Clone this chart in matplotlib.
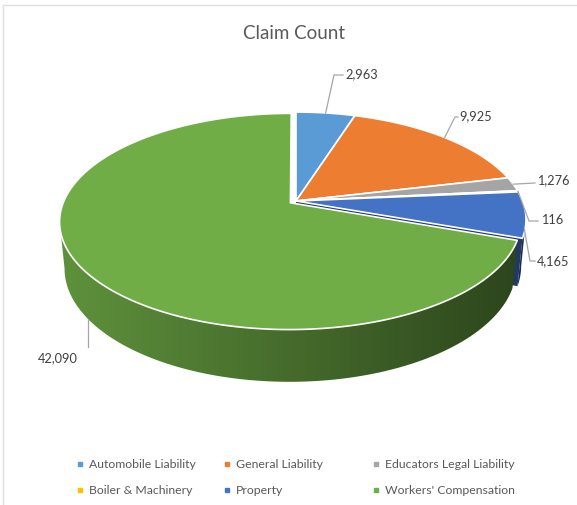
import numpy as np
import matplotlib.pyplot as plt
from matplotlib.patches import Polygon
from matplotlib.colors import to_rgb

# Chart data
categories = ["Automobile Liability", "General Liability", "Educators Legal Liability",
              "Boiler & Machinery", "Property", "Workers' Compensation"]
claims = [2963, 9925, 1276, 116, 4165, 42090]
value_labels = ["2,963", "9,925", "1,276", "116", "4,165", "42,090"]
colors = ["#5B9BD5", "#ED7D31", "#A5A5A5", "#FFC000", "#4472C4", "#70AD47"]
explode = [0, 0, 0, 0, 0, 0.03]

FONT = "Lato"
TEXT_COLOR = "#595959"

# 3D view (pixel space), simple perspective camera
CX, CY = 296, 202
FOCAL = 1169
DIST = 5.16
TILT = np.radians(27.4)
THICK = 0.233


def project(t_deg, r=1.0, z=0.0, shift=(0.0, 0.0)):
    t = np.radians(t_deg)
    x = r * np.cos(t) + shift[0]
    y = r * np.sin(t) + shift[1]
    w = DIST + y * np.cos(TILT) - z * np.sin(TILT)
    v = y * np.sin(TILT) + z * np.cos(TILT)
    return CX + FOCAL * x / w, CY - FOCAL * v / w


def shade_factor(x):
    # light comes from the left, walls get darker to the right
    return np.interp(x, [62, 526], [0.84, 0.39])


fig = plt.figure(figsize=(5.77, 5.06), dpi=100)
ax = fig.add_axes([0, 0, 1, 1])
ax.axis("off")

total = float(sum(claims))
spans = [c / total * 360 for c in claims]
t_hi = 90 - np.concatenate([[0], np.cumsum(spans)[:-1]])
t_lo = t_hi - np.array(spans)
shifts = []
for i in range(len(claims)):
    mid = np.radians((t_hi[i] + t_lo[i]) / 2)
    shifts.append((explode[i] * np.cos(mid), explode[i] * np.sin(mid)))

sil = np.degrees(np.arcsin(np.cos(TILT) / DIST))
z = 1

# --- radial cut faces next to exploded slices ---
n = len(claims)
for i in range(n):
    nxt = (i + 1) % n
    if (explode[i] or explode[nxt]) and np.cos(np.radians(t_lo[i])) > 0:
        a = project(t_lo[i], r=0, shift=shifts[i])
        b = project(t_lo[i], shift=shifts[i])
        c = project(t_lo[i], z=-THICK, shift=shifts[i])
        d = project(t_lo[i], r=0, z=-THICK, shift=shifts[i])
        rgb = np.array(to_rgb(colors[i])) * 0.5
        ax.add_patch(Polygon([a, b, c, d], closed=True, facecolor=rgb,
                             edgecolor="none", zorder=z))
        z += 1

# --- outer walls, with horizontal shading ---
walls = []
for i in range(n):
    lo = max(t_lo[i], -180 + sil)
    hi = min(t_hi[i], -sil)
    if hi <= lo:
        continue
    ts = np.linspace(lo, hi, 120)
    tx, ty = project(ts, shift=shifts[i])
    bx, by = project(ts[::-1], z=-THICK, shift=shifts[i])
    pts = np.column_stack([np.concatenate([tx, bx]), np.concatenate([ty, by])])
    walls.append((i, pts))

for i, pts in walls:
    clip = Polygon(pts, closed=True, transform=ax.transData)
    x0, x1 = pts[:, 0].min(), pts[:, 0].max()
    y0, y1 = pts[:, 1].min(), pts[:, 1].max()
    xs = np.linspace(x0, x1, 300)
    img = np.array(to_rgb(colors[i]))[None, None, :] * shade_factor(xs)[None, :, None]
    im = ax.imshow(img, extent=(x0, x1, y1, y0), aspect="auto",
                   interpolation="bilinear", zorder=z)
    im.set_clip_path(clip)
    z += 1

# --- top faces ---
for i in range(n):
    ts = np.linspace(t_hi[i], t_lo[i], max(int(spans[i] * 2), 4))
    ax_, ay_ = project(0, r=0, shift=shifts[i])
    rx, ry = project(ts, shift=shifts[i])
    pts = [(ax_, ay_)] + list(zip(rx, ry))
    ax.add_patch(Polygon(pts, closed=True, facecolor=colors[i],
                         edgecolor="white", linewidth=1.2, joinstyle="round",
                         zorder=z + 1))

# --- data labels with leader lines ---
anchor_z = [0, 0, 0, 0, -0.3 * THICK, -THICK]
elbows = [(334, 76), (455, 118), (535, 184), (529, 222), (530, 262), None]
ends = [(343, 76), (458, 118), (535, 184), (538, 222), (535, 262), None]
text_pos = [(345, 74), (459, 116), (537, 180), (541, 220), (537, 261), (58, 358)]
text_ha = ["left", "left", "left", "left", "left", "center"]

for i in range(n):
    mid = (t_hi[i] + t_lo[i]) / 2
    px, py = project(mid, z=anchor_z[i], shift=shifts[i])
    if elbows[i] is None:
        xs, ys = [px, px], [py, 348]
    else:
        xs = [px, elbows[i][0], ends[i][0]]
        ys = [py, elbows[i][1], ends[i][1]]
    ax.plot(xs, ys, color="#A6A6A6", linewidth=0.9, zorder=z + 2)
    ax.text(text_pos[i][0], text_pos[i][1], value_labels[i], ha=text_ha[i],
            va="center", fontsize=9.2, color="#404040", family=FONT, zorder=z + 3)

# title
ax.text(294, 33, "Claim Count", ha="center", va="center", fontsize=13.5,
        color=TEXT_COLOR, family=FONT)

# legend, 3 per row
leg_marker_x = [80, 227, 376]
leg_text_x = [89, 236, 385]
leg_y = [465, 491]
for i, cat in enumerate(categories):
    row, col = divmod(i, 3)
    ax.plot(leg_marker_x[col], leg_y[row], marker="s", markersize=3.5,
            color=colors[i], linestyle="none")
    ax.text(leg_text_x[col], leg_y[row], cat, ha="left", va="center",
            fontsize=8.8, color=TEXT_COLOR, family=FONT)

# faint chart border
ax.plot([3, 577], [6, 6], color="#E0E0E0", linewidth=1)
ax.plot([3, 3], [6, 506], color="#E0E0E0", linewidth=1)

ax.set_xlim(0, 577)
ax.set_ylim(506, 0)
fig.savefig("out.png", dpi=100)
